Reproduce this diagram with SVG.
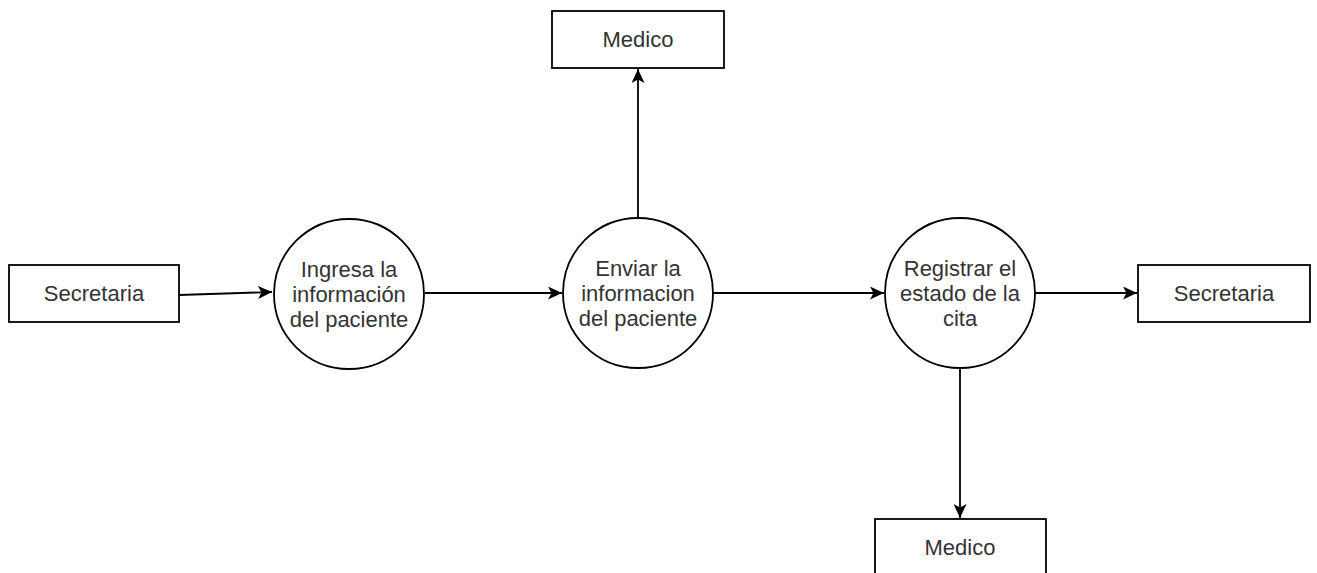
<svg xmlns="http://www.w3.org/2000/svg" width="1317" height="573" viewBox="0 0 1317 573">
<style>
.box{fill:#fff;stroke:#000;stroke-width:1.8}
.proc{fill:#fff;stroke:#000;stroke-width:1.8}
.lbl{font-family:"Liberation Sans",Arial,sans-serif;font-size:22px;fill:#333;text-anchor:middle}
.edge{fill:none;stroke:#000;stroke-width:1.8}
</style>
<defs>
<marker id="ah" viewBox="0 0 14 13" refX="14" refY="6.5" markerWidth="14" markerHeight="13" markerUnits="userSpaceOnUse" orient="auto">
<path d="M0,0 L14,6.5 L0,13 L3.5,6.5 Z" fill="#000"/>
</marker>
</defs>
<rect width="1317" height="573" fill="#fff"/>
<g id="connectors">
<path class="edge" d="M179,295 L272,292" marker-end="url(#ah)"/>
<path class="edge" d="M425,293 L562,293" marker-end="url(#ah)"/>
<path class="edge" d="M638,218 L638,69" marker-end="url(#ah)"/>
<path class="edge" d="M713,293 L884,293" marker-end="url(#ah)"/>
<path class="edge" d="M1035,293 L1137,293" marker-end="url(#ah)"/>
<path class="edge" d="M960,368 L960,518" marker-end="url(#ah)"/>
</g>
<g id="secretaria1">
<rect class="box" x="9" y="265" width="170" height="57"/>
<text class="lbl" x="94" y="301">Secretaria</text>
</g>
<g id="proc1">
<circle class="proc" cx="349" cy="294" r="75"/>
<text class="lbl" x="349" y="277">Ingresa la</text>
<text class="lbl" x="349" y="302">información</text>
<text class="lbl" x="349" y="327">del paciente</text>
</g>
<g id="proc2">
<circle class="proc" cx="638" cy="293" r="75"/>
<text class="lbl" x="638" y="276">Enviar la</text>
<text class="lbl" x="638" y="301">informacion</text>
<text class="lbl" x="638" y="326">del paciente</text>
</g>
<g id="medico1">
<rect class="box" x="552" y="11" width="172" height="57"/>
<text class="lbl" x="638" y="47">Medico</text>
</g>
<g id="proc3">
<circle class="proc" cx="960" cy="293" r="75"/>
<text class="lbl" x="960" y="276">Registrar el</text>
<text class="lbl" x="960" y="301">estado de la</text>
<text class="lbl" x="960" y="326">cita</text>
</g>
<g id="secretaria2">
<rect class="box" x="1138" y="265" width="172" height="57"/>
<text class="lbl" x="1224" y="301">Secretaria</text>
</g>
<g id="medico2">
<rect class="box" x="875" y="519" width="171" height="60"/>
<text class="lbl" x="960" y="555">Medico</text>
</g>
</svg>
